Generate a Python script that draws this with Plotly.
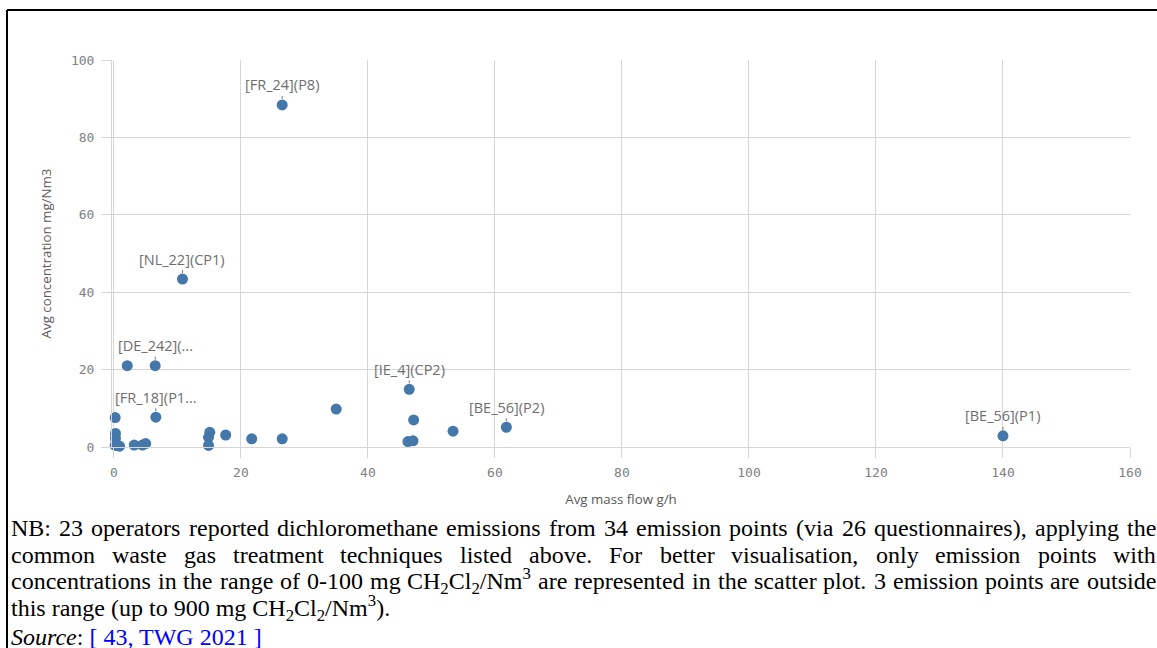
import plotly.graph_objects as go

# data
mass_flow = [26.5, 10.8, 6.5, 2.1, 6.6, 0.2, 0.25, 0.25, 0.2, 0.9, 3.2, 4.5, 5.0,
             15.1, 14.9, 14.9, 17.6, 21.7, 26.5, 35.0, 46.5, 47.2, 53.4, 61.8,
             46.3, 47.1, 140.0]
concentration = [88.4, 43.4, 21.0, 21.0, 7.7, 7.6, 3.5, 2.2, 0.4, 0.2, 0.5, 0.5, 0.9,
                 3.8, 2.5, 0.4, 3.1, 2.1, 2.1, 9.8, 14.9, 7.0, 4.1, 5.1,
                 1.4, 1.6, 2.9]
point_labels = ["[FR_24](P8)", "[NL_22](CP1)", "[DE_242](...", "", "[FR_18](P1...",
                "", "", "", "", "", "", "", "", "", "", "", "", "", "", "",
                "[IE_4](CP2)", "", "", "[BE_56](P2)", "", "", "[BE_56](P1)"]
x_ticks = [0, 20, 40, 60, 80, 100, 120, 140, 160]
y_ticks = [0, 20, 40, 60, 80, 100]

note_justified = [
    "NB: 23 operators reported dichloromethane emissions from 34 emission points (via 26 questionnaires), applying the",
    "common waste gas treatment techniques listed above. For better visualisation, only emission points with",
    "concentrations in the range of 0-100 mg CH<sub>2</sub>Cl<sub>2</sub>/Nm<sup>3</sup> are represented in the scatter plot. 3 emission points are outside",
]
note_last = "this range (up to 900 mg CH<sub>2</sub>Cl<sub>2</sub>/Nm<sup>3</sup>)."
source_line = "<i>Source</i>: <span style='color:#0000ff'>[ 43, TWG 2021 ]</span>"

W, H = 1157, 648
ML, MR, MT, MB = 112, 27, 60, 201
PW, PH = W - ML - MR, H - MT - MB

GRID = "#d6d6d6"
DOT = "#4477aa"
SERIF = "Liberation Serif, Times New Roman, serif"


def px_x(px):
    return (px - ML) / PW


def px_y(py):
    return (H - MB - py) / PH


# Times New Roman advance widths (per 1000 em), for justifying the note
TIMES = {' ': 250, '(': 333, ')': 333, ',': 250, '-': 333, '.': 250, '/': 278, ':': 278,
         'B': 667, 'C': 667, 'F': 556, 'H': 722, 'N': 722,
         'a': 444, 'b': 500, 'c': 444, 'd': 500, 'e': 444, 'f': 333, 'g': 500, 'h': 500,
         'i': 278, 'l': 278, 'm': 778, 'n': 500, 'o': 500, 'p': 500, 'q': 500, 'r': 333,
         's': 389, 't': 278, 'u': 500, 'v': 500, 'w': 722, 'y': 500}


def text_width(word, size):
    w, scale, i = 0.0, 1.0, 0
    while i < len(word):
        if word[i] == '<':
            j = word.index('>', i)
            tag = word[i + 1:j]
            scale = 0.7 if tag in ('sub', 'sup') else 1.0
            i = j + 1
            continue
        w += TIMES.get(word[i], 500) * scale
        i += 1
    return w * size / 1000


fig = go.Figure()
fig.add_trace(go.Scatter(
    x=mass_flow, y=concentration, mode="markers",
    marker=dict(color=DOT, size=11),
    cliponaxis=False, hoverinfo="x+y",
))

annotations = []
for x, y, lab in zip(mass_flow, concentration, point_labels):
    if lab:
        annotations.append(dict(
            x=x, y=y, xref="x", yref="y", text=lab,
            showarrow=True, arrowhead=0, arrowwidth=1, arrowcolor="#7a7a7a",
            ax=0, ay=-20, standoff=6,
            font=dict(family="Open Sans, sans-serif", size=14.5, color="#6e6e6e"),
        ))

# justified note lines, word by word
size = 24
left, right = 10, 1155
line_y = [528, 554.5, 581]
for line, ly in zip(note_justified, line_y):
    words = line.split(" ")
    widths = [text_width(w, size) for w in words]
    gap = (right - left - sum(widths)) / (len(words) - 1)
    xpos = left
    for w, ww in zip(words, widths):
        annotations.append(dict(
            x=px_x(xpos), y=px_y(ly), xref="paper", yref="paper", text=w,
            showarrow=False, xanchor="left", yanchor="middle", borderpad=0,
            font=dict(family=SERIF, size=size, color="black"),
        ))
        xpos += ww + gap

for txt, ly in [(note_last, 608), (source_line, 637)]:
    annotations.append(dict(
        x=px_x(left), y=px_y(ly), xref="paper", yref="paper", text=txt,
        showarrow=False, xanchor="left", yanchor="middle", borderpad=0,
        font=dict(family=SERIF, size=size, color="black"),
    ))

shapes = [
    dict(type="line", xref="paper", yref="paper", x0=px_x(7), x1=px_x(1165),
         y0=px_y(10), y1=px_y(10), line=dict(color="black", width=2)),
    dict(type="line", xref="paper", yref="paper", x0=px_x(7), x1=px_x(7),
         y0=px_y(10), y1=px_y(655), line=dict(color="black", width=2)),
]

tickfont = dict(family="DejaVu Sans Mono, monospace", size=13, color="#808080")
titlefont = dict(family="Open Sans, sans-serif", size=13.3, color="#595959")

fig.update_layout(
    template="none",
    width=W, height=H,
    margin=dict(l=ML, r=MR, t=MT, b=MB, autoexpand=False),
    plot_bgcolor="white", paper_bgcolor="white",
    showlegend=False,
    xaxis=dict(
        range=[-0.3, 160], tickvals=x_ticks, showgrid=True, gridcolor=GRID, gridwidth=1,
        zeroline=False, showline=True, linecolor=GRID, linewidth=1,
        ticks="outside", ticklen=10, tickcolor=GRID, tickfont=tickfont,
        ticklabelstandoff=3, automargin=False,
        title=dict(text="Avg mass flow g/h", font=titlefont, standoff=16),
    ),
    yaxis=dict(
        range=[0, 100], tickvals=y_ticks, showgrid=True, gridcolor=GRID, gridwidth=1,
        zeroline=False, showline=True, linecolor=GRID, linewidth=1,
        ticks="outside", ticklen=10, tickcolor=GRID, tickfont=tickfont,
        ticklabelstandoff=4, automargin=False,
        title=dict(text="Avg concentration mg/Nm3", font=titlefont, standoff=16),
    ),
    annotations=annotations,
    shapes=shapes,
)

fig.write_html("out.html", config={"displayModeBar": False},
               post_script="document.body.style.margin='0px';document.body.style.overflow='hidden';")
